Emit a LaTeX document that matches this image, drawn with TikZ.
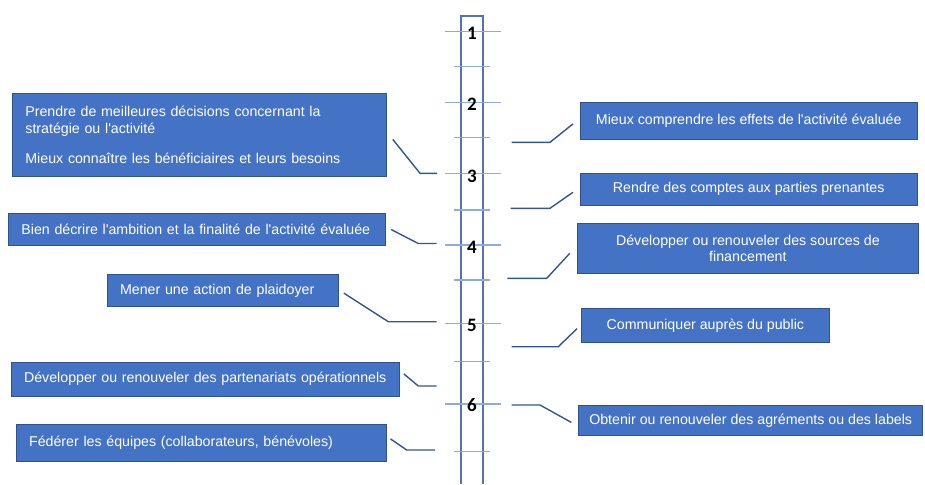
\documentclass[tikz,border=0pt]{standalone}
\usepackage{fontspec}
\setmainfont{Liberation Sans}
\newfontfamily\digitfont{Carlito}
\newcommand\apos{\textquotesingle}
\definecolor{boxfill}{HTML}{4472C4}
\definecolor{boxedge}{HTML}{2F528F}
\definecolor{railblue}{HTML}{5273B4}
\definecolor{tickblue}{HTML}{8FAADC}
\definecolor{linkblue}{HTML}{34558F}

\begin{document}
\begin{tikzpicture}[x=1pt,y=-1pt,
  goal/.style={draw=boxedge, line width=0.8pt, fill=boxfill, text=white,
    font=\fontsize{14.2}{16.7}\selectfont, inner ysep=0pt, anchor=north west},
  goalleft/.style={goal, inner xsep=13pt, align=left},
  goalmid/.style={goal, inner xsep=4pt, align=center},
  link/.style={draw=linkblue, line width=1.4pt},
  rail/.style={draw=railblue, line width=1.8pt},
  majortick/.style={draw=tickblue, line width=1.5pt},
  minortick/.style={draw=tickblue, line width=1.5pt},
  level/.style={font=\digitfont\bfseries\fontsize{19}{19}\selectfont, text=black, inner sep=0pt}]

\useasboundingbox (0,0) rectangle (925,484);

% graduated scale
\draw[rail] (460.7,484) |- (483.3,15.7) -- (483.3,484);
\foreach \y in {31.7,102.7,173.3,245,323.3,404}
  \draw[majortick] (445,\y) -- (501,\y);
\foreach \y in {66.7,137.3,210,280,361.7,451.7}
  \draw[minortick] (454.3,\y) -- (490,\y);
\node[level] (n1) at (472,33) {1};
\node[level] (n2) at (472,104.5) {2};
\node[level] (n3) at (472,176) {3};
\node[level] (n4) at (472,247) {4};
\node[level] (n5) at (472,325) {5};
\node[level] (n6) at (472,405.5) {6};

% objectives on the left
\node[goalleft, minimum width=374pt, minimum height=83pt, text width=348pt] (L1) at (12,93)
  {Prendre de meilleures décisions concernant la\\ stratégie ou l\apos{}activité\\[13.3pt] Mieux connaître les bénéficiaires et leurs besoins};
\node[goalleft, minimum width=377.4pt, minimum height=31.7pt, text width=351.4pt] (L2) at (8,213.3)
  {\mbox{Bien décrire l\apos{}ambition et la finalité de l\apos{}activité évaluée}};
\node[goalleft, minimum width=231.3pt, minimum height=32pt, text width=205.3pt] (L3) at (106.7,274)
  {\mbox{Mener une action de plaidoyer}};
\node[goalleft, minimum width=388.3pt, minimum height=34pt, text width=362.3pt] (L4) at (10.7,361.7)
  {\mbox{Développer ou renouveler des partenariats opérationnels}};
\node[goalleft, minimum width=370pt, minimum height=37pt, text width=344pt] (L5) at (15.7,424)
  {\mbox{Fédérer les équipes (collaborateurs, bénévoles)}};

% objectives on the right
\node[goalmid, minimum width=336.7pt, minimum height=37.6pt] (R1) at (580,101.7)
  {Mieux comprendre les effets de l\apos{}activité évaluée};
\node[goalmid, minimum width=336.7pt, minimum height=32.3pt] (R2) at (580,172.7)
  {Rendre des comptes aux parties prenantes};
\node[goalmid, minimum width=341.6pt, minimum height=49.4pt] (R3) at (576.7,223.3)
  {Développer ou renouveler des sources de\\ financement};
\node[goalmid, minimum width=248pt, minimum height=34pt] (R4) at (581,308.3)
  {Communiquer auprès du public};
\node[goalmid, minimum width=344pt, minimum height=30pt] (R5) at (578.3,405)
  {Obtenir ou renouveler des agréments ou des labels};

% leader ends on the scale
\coordinate (e1) at (437,173.3);
\coordinate (e2) at (436.7,243.5);
\coordinate (e3) at (436.7,321.7);
\coordinate (e4) at (436.7,386);
\coordinate (e5) at (435,450);
\coordinate (f1) at (511.7,142.3);
\coordinate (f2) at (510.7,208.3);
\coordinate (f3) at (507.3,278.3);
\coordinate (f4) at (511.7,346.7);
\coordinate (f5) at (511.7,405);

% leaders
\draw[link] ([xshift=6pt,yshift=-4.5pt]L1.east) -- (420,173.3) -- (e1);
\draw[link] ([xshift=5pt]L2.east) -- (418.3,243.5) -- (e2);
\draw[link] ([xshift=5pt,yshift=-2.7pt]L3.east) -- (388.3,321.7) -- (e3);
\draw[link] ([xshift=4pt,yshift=5.3pt]L4.east) -- (418.3,386) -- (e4);
\draw[link] ([xshift=4pt,yshift=4pt]L5.east) -- (406.7,450) -- (e5);
\draw[link] ([xshift=-7pt,yshift=-3pt]R1.west) -- (550,142.3) -- (f1);
\draw[link] ([xshift=-7pt,yshift=-3pt]R2.west) -- (550,208.3) -- (f2);
\draw[link] ([xshift=-7pt,yshift=-5pt]R3.west) -- (546.7,278.3) -- (f3);
\draw[link] ([xshift=-4pt,yshift=-3pt]R4.west) -- (558.3,346.7) -- (f4);
\draw[link] ([xshift=-7pt,yshift=-2pt]R5.west) -- (540,405) -- (f5);
\end{tikzpicture}
\end{document}
